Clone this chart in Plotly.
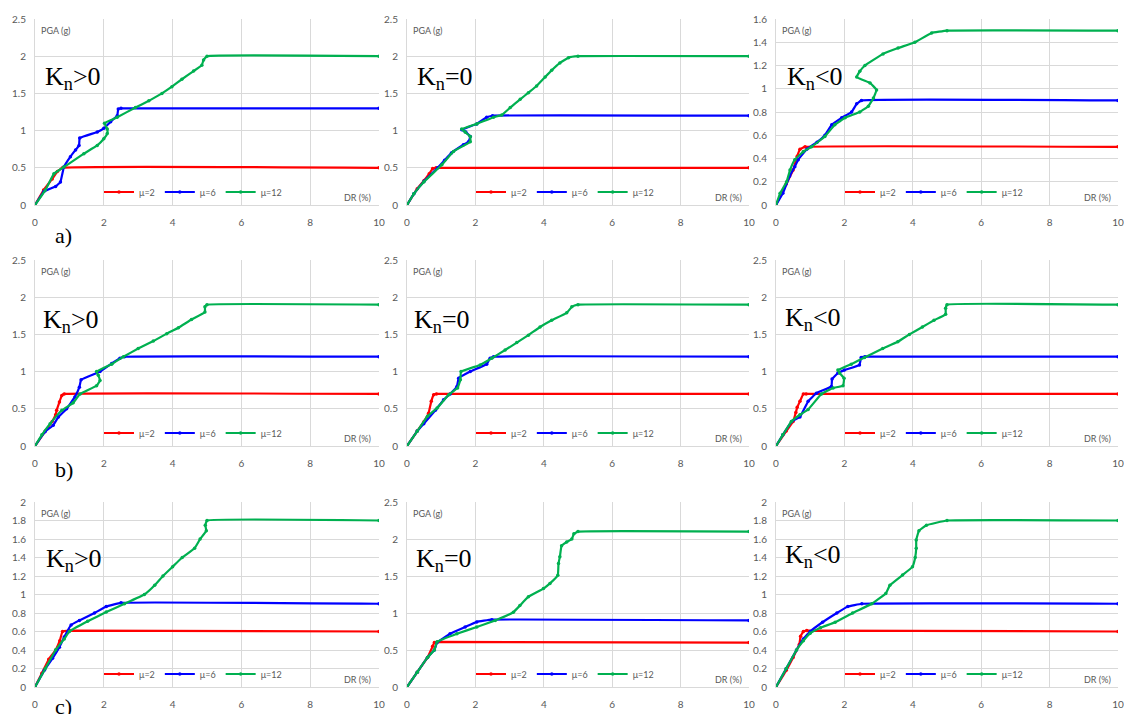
import plotly.graph_objects as go

# ---------------- data (DR %, PGA g) ----------------
# Row a
A1_MU2_X = [0, 0.25, 0.5, 0.65, 0.8, 10]
A1_MU2_Y = [0, 0.2, 0.35, 0.45, 0.5, 0.5]
A1_MU6_X = [0, 0.26, 0.6, 0.74, 0.84, 1.03, 1.18, 1.28, 1.3, 1.81, 2.0, 2.2, 2.39, 2.42, 2.5, 10]
A1_MU6_Y = [0, 0.18, 0.25, 0.31, 0.51, 0.65, 0.74, 0.8, 0.9, 0.98, 1.03, 1.12, 1.2, 1.29, 1.3, 1.3]
A1_MU12_X = [0, 0.3, 0.55, 0.84, 1.42, 1.81, 2.0, 2.1, 2.1, 2.02, 2.39, 2.92, 3.31, 3.69, 3.98, 4.27, 4.61, 4.85, 4.9, 5.0, 10]
A1_MU12_Y = [0, 0.2, 0.42, 0.51, 0.69, 0.8, 0.89, 0.96, 1.02, 1.1, 1.18, 1.31, 1.4, 1.5, 1.59, 1.69, 1.8, 1.88, 1.95, 2.0, 2.0]

A2_MU2_X = [0, 0.3, 0.5, 0.65, 0.75, 0.85, 10]
A2_MU2_Y = [0, 0.22, 0.33, 0.42, 0.49, 0.5, 0.5]
A2_MU6_X = [0, 0.2, 0.5, 0.9, 1.1, 1.3, 1.65, 1.8, 1.85, 1.72, 1.6, 2.04, 2.33, 2.5, 10]
A2_MU6_Y = [0, 0.15, 0.32, 0.5, 0.6, 0.7, 0.81, 0.85, 0.92, 0.98, 1.01, 1.09, 1.18, 1.2, 1.2]
A2_MU12_X = [0, 0.2, 0.49, 1.02, 1.36, 1.85, 1.85, 1.7, 1.6, 2.04, 2.53, 2.77, 3.02, 3.31, 3.55, 3.79, 4.04, 4.23, 4.47, 4.72, 5.0, 10]
A2_MU12_Y = [0, 0.15, 0.31, 0.54, 0.72, 0.85, 0.92, 0.98, 1.02, 1.09, 1.18, 1.21, 1.31, 1.42, 1.51, 1.6, 1.72, 1.81, 1.91, 1.98, 2.0, 2.0]

A3_MU2_X = [0, 0.3, 0.5, 0.62, 0.7, 0.85, 10]
A3_MU2_Y = [0, 0.18, 0.3, 0.42, 0.48, 0.5, 0.5]
A3_MU6_X = [0, 0.2, 0.4, 0.55, 0.65, 0.9, 1.2, 1.43, 1.63, 1.92, 2.21, 2.36, 2.5, 10]
A3_MU6_Y = [0, 0.1, 0.25, 0.33, 0.39, 0.48, 0.54, 0.6, 0.69, 0.75, 0.8, 0.87, 0.9, 0.9]
A3_MU12_X = [0, 0.12, 0.31, 0.41, 0.55, 0.8, 1.04, 1.43, 1.72, 2.02, 2.45, 2.7, 2.85, 2.94, 2.75, 2.36, 2.45, 2.6, 3.13, 3.57, 4.06, 4.55, 5.0, 10]
A3_MU12_Y = [0, 0.1, 0.2, 0.3, 0.39, 0.46, 0.5, 0.59, 0.69, 0.75, 0.8, 0.85, 0.92, 0.99, 1.05, 1.1, 1.15, 1.2, 1.3, 1.35, 1.4, 1.48, 1.5, 1.5]

# Row b
B1_MU2_X = [0, 0.3, 0.5, 0.6, 0.63, 0.71, 0.78, 0.85, 10]
B1_MU2_Y = [0, 0.2, 0.33, 0.42, 0.48, 0.59, 0.68, 0.7, 0.7]
B1_MU6_X = [0, 0.29, 0.53, 0.68, 0.92, 1.16, 1.29, 1.34, 1.89, 2.23, 2.47, 2.6, 10]
B1_MU6_Y = [0, 0.19, 0.28, 0.39, 0.5, 0.66, 0.79, 0.89, 1.0, 1.11, 1.18, 1.2, 1.2]
B1_MU12_X = [0, 0.2, 0.44, 0.78, 1.11, 1.31, 1.79, 1.89, 1.84, 1.79, 2.23, 2.57, 3.0, 3.44, 3.83, 4.17, 4.55, 4.94, 4.94, 5.0, 10]
B1_MU12_Y = [0, 0.15, 0.3, 0.48, 0.58, 0.7, 0.81, 0.88, 0.95, 1.0, 1.1, 1.2, 1.31, 1.41, 1.51, 1.59, 1.7, 1.8, 1.87, 1.9, 1.9]

B2_MU2_X = [0, 0.3, 0.5, 0.63, 0.71, 0.78, 0.86, 10]
B2_MU2_Y = [0, 0.2, 0.33, 0.44, 0.6, 0.69, 0.7, 0.7]
B2_MU6_X = [0, 0.3, 0.49, 0.83, 1.07, 1.26, 1.46, 1.51, 1.85, 2.33, 2.43, 2.53, 10]
B2_MU6_Y = [0, 0.2, 0.3, 0.48, 0.62, 0.7, 0.8, 0.91, 1.0, 1.1, 1.18, 1.2, 1.2]
B2_MU12_X = [0, 0.3, 0.6, 0.88, 1.22, 1.48, 1.56, 1.58, 2.14, 2.48, 2.87, 3.21, 3.55, 3.89, 4.23, 4.67, 4.82, 5.0, 10]
B2_MU12_Y = [0, 0.2, 0.4, 0.51, 0.69, 0.78, 0.89, 1.0, 1.09, 1.18, 1.29, 1.39, 1.49, 1.6, 1.69, 1.79, 1.87, 1.9, 1.9]

B3_MU2_X = [0, 0.3, 0.5, 0.58, 0.62, 0.7, 0.8, 0.88, 10]
B3_MU2_Y = [0, 0.2, 0.33, 0.45, 0.52, 0.6, 0.7, 0.7, 0.7]
B3_MU6_X = [0, 0.2, 0.46, 0.7, 0.94, 1.18, 1.62, 1.64, 1.81, 2.0, 2.44, 2.49, 2.6, 10]
B3_MU6_Y = [0, 0.15, 0.33, 0.39, 0.6, 0.71, 0.8, 0.9, 0.98, 1.02, 1.09, 1.19, 1.2, 1.2]
B3_MU12_X = [0, 0.2, 0.45, 0.7, 0.94, 1.33, 1.67, 1.96, 1.99, 1.86, 1.81, 2.2, 2.59, 3.12, 3.56, 3.9, 4.28, 4.62, 4.96, 4.96, 5.0, 10]
B3_MU12_Y = [0, 0.15, 0.33, 0.42, 0.49, 0.7, 0.78, 0.81, 0.91, 0.98, 1.02, 1.1, 1.19, 1.31, 1.4, 1.5, 1.6, 1.69, 1.77, 1.85, 1.9, 1.9]

# Row c
C1_MU2_X = [0, 0.2, 0.4, 0.6, 0.72, 0.8, 1.0, 10]
C1_MU2_Y = [0, 0.15, 0.3, 0.4, 0.5, 0.6, 0.61, 0.6]
C1_MU6_X = [0, 0.27, 0.51, 0.71, 0.85, 1.05, 1.29, 1.73, 2.07, 2.5, 10]
C1_MU6_Y = [0, 0.18, 0.31, 0.43, 0.54, 0.67, 0.72, 0.8, 0.87, 0.91, 0.9]
C1_MU12_X = [0, 0.3, 0.6, 0.85, 1.0, 1.53, 2.07, 2.6, 3.18, 3.48, 3.72, 4.0, 4.28, 4.64, 4.8, 4.98, 4.95, 5.0, 10]
C1_MU12_Y = [0, 0.2, 0.4, 0.52, 0.6, 0.71, 0.81, 0.9, 1.0, 1.1, 1.2, 1.3, 1.4, 1.5, 1.6, 1.69, 1.75, 1.8, 1.8]

C2_MU2_X = [0, 0.3, 0.6, 0.75, 0.8, 0.9, 10]
C2_MU2_Y = [0, 0.2, 0.4, 0.55, 0.6, 0.61, 0.6]
C2_MU6_X = [0, 0.3, 0.6, 0.8, 0.88, 1.26, 1.7, 2.04, 2.48, 10]
C2_MU6_Y = [0, 0.2, 0.4, 0.5, 0.6, 0.72, 0.81, 0.88, 0.91, 0.9]
C2_MU12_X = [0, 0.3, 0.6, 0.8, 0.88, 1.46, 2.04, 2.58, 3.11, 3.3, 3.55, 3.99, 4.18, 4.41, 4.43, 4.47, 4.52, 4.67, 4.82, 4.88, 5.0, 10]
C2_MU12_Y = [0, 0.2, 0.4, 0.5, 0.61, 0.72, 0.81, 0.9, 1.01, 1.1, 1.22, 1.33, 1.4, 1.51, 1.67, 1.76, 1.91, 1.96, 2.0, 2.07, 2.1, 2.1]

C3_MU2_X = [0, 0.3, 0.5, 0.68, 0.72, 0.8, 0.9, 10]
C3_MU2_Y = [0, 0.18, 0.32, 0.46, 0.55, 0.6, 0.61, 0.6]
C3_MU6_X = [0, 0.3, 0.6, 0.8, 1.0, 1.36, 1.78, 2.1, 2.51, 10]
C3_MU6_Y = [0, 0.2, 0.4, 0.52, 0.6, 0.7, 0.8, 0.87, 0.9, 0.9]
C3_MU12_X = [0, 0.3, 0.6, 0.8, 1.0, 1.3, 1.73, 2.24, 2.8, 3.21, 3.33, 3.7, 3.99, 4.07, 4.1, 4.1, 4.18, 4.4, 5.0, 10]
C3_MU12_Y = [0, 0.2, 0.4, 0.5, 0.58, 0.64, 0.7, 0.8, 0.9, 1.01, 1.1, 1.21, 1.3, 1.4, 1.5, 1.59, 1.69, 1.75, 1.8, 1.8]

SERIES_NAMES = ["μ=2", "μ=6", "μ=12"]
PANEL_LABELS = ["K<sub>n</sub>&gt;0", "K<sub>n</sub>=0", "K<sub>n</sub>&lt;0"]
ROW_LABELS = ["a)", "b)", "c)"]
Y_MAX = [2.5, 2.5, 1.6, 2.5, 2.5, 2.5, 2.0, 2.5, 2.0]
Y_DTICK = [0.5, 0.5, 0.2, 0.5, 0.5, 0.5, 0.2, 0.5, 0.2]

PANELS = [
    [(A1_MU2_X, A1_MU2_Y), (A1_MU6_X, A1_MU6_Y), (A1_MU12_X, A1_MU12_Y)],
    [(A2_MU2_X, A2_MU2_Y), (A2_MU6_X, A2_MU6_Y), (A2_MU12_X, A2_MU12_Y)],
    [(A3_MU2_X, A3_MU2_Y), (A3_MU6_X, A3_MU6_Y), (A3_MU12_X, A3_MU12_Y)],
    [(B1_MU2_X, B1_MU2_Y), (B1_MU6_X, B1_MU6_Y), (B1_MU12_X, B1_MU12_Y)],
    [(B2_MU2_X, B2_MU2_Y), (B2_MU6_X, B2_MU6_Y), (B2_MU12_X, B2_MU12_Y)],
    [(B3_MU2_X, B3_MU2_Y), (B3_MU6_X, B3_MU6_Y), (B3_MU12_X, B3_MU12_Y)],
    [(C1_MU2_X, C1_MU2_Y), (C1_MU6_X, C1_MU6_Y), (C1_MU12_X, C1_MU12_Y)],
    [(C2_MU2_X, C2_MU2_Y), (C2_MU6_X, C2_MU6_Y), (C2_MU12_X, C2_MU12_Y)],
    [(C3_MU2_X, C3_MU2_Y), (C3_MU6_X, C3_MU6_Y), (C3_MU12_X, C3_MU12_Y)],
]

# ---------------- layout / style ----------------
W, H = 1124, 714
COLORS = ["#ff0000", "#0000ff", "#00b050"]
COL_PX = [(35, 379), (407, 749), (776, 1118)]   # x=0 .. x=10 pixel columns
ROW_PX = [(19, 205), (260, 446), (502, 687)]    # top .. bottom pixel rows
KN_POS = [(43, 78), (415, 78), (785, 78),
          (41, 321), (412, 321), (783, 319),
          (44, 560), (414, 560), (783, 556)]
ROW_LABEL_POS = [(53, 236), (53, 469), (53, 706)]

GRID = "#d9d9d9"
TICKC = "#595959"
TICKFONT = dict(family="Lato, Liberation Sans, sans-serif", size=10, color=TICKC)

fig = go.Figure()
layout = dict(
    width=W, height=H, margin=dict(l=0, r=0, t=0, b=0, autoexpand=False),
    paper_bgcolor="white", plot_bgcolor="white", showlegend=True,
)
annotations = []

for i, series in enumerate(PANELS):
    r, c = divmod(i, 3)
    k = "" if i == 0 else str(i + 1)
    x0, x1 = COL_PX[c]
    yt, yb = ROW_PX[r]
    leg = "legend" + k
    for s, (xs, ys) in enumerate(series):
        fig.add_trace(go.Scatter(
            x=xs, y=ys, mode="lines+markers", name=SERIES_NAMES[s],
            line=dict(color=COLORS[s], width=2.2, shape="spline", smoothing=0.25),
            marker=dict(color=COLORS[s], size=3.5),
            xaxis="x" + k, yaxis="y" + k, legend=leg,
        ))
    layout["xaxis" + k] = dict(
        domain=[x0 / W, x1 / W], anchor="y" + k, range=[0, 10], dtick=2, tick0=0,
        showgrid=True, gridcolor=GRID, gridwidth=1, zeroline=False,
        showline=True, linecolor=GRID, linewidth=1, ticks="",
        tickfont=TICKFONT, ticklabelstandoff=8, automargin=False,
    )
    layout["yaxis" + k] = dict(
        domain=[1 - yb / H, 1 - yt / H], anchor="x" + k, range=[0, Y_MAX[i]],
        dtick=Y_DTICK[i], tick0=0,
        showgrid=True, gridcolor=GRID, gridwidth=1, zeroline=False,
        showline=True, linecolor=GRID, linewidth=1, ticks="",
        tickfont=TICKFONT, ticklabelstandoff=6, automargin=False,
    )
    layout[leg] = dict(
        orientation="h", x=(x0 + 64) / W, y=1 - (yb - 13) / H,
        xanchor="left", yanchor="middle", bgcolor="rgba(0,0,0,0)",
        font=dict(family="Lato, Liberation Sans, sans-serif", size=9, color=TICKC),
        itemwidth=30, tracegroupgap=0,
    )
    annotations.append(dict(
        text="PGA (g)", xref="x" + k + " domain", yref="y" + k + " domain",
        x=0.012, y=0.94, xanchor="left", yanchor="middle", showarrow=False,
        font=dict(family="Lato, Liberation Sans, sans-serif", size=9, color=TICKC),
    ))
    annotations.append(dict(
        text="DR (%)", xref="x" + k + " domain", yref="y" + k + " domain",
        x=0.984, y=0.04, xanchor="right", yanchor="middle", showarrow=False,
        font=dict(family="Lato, Liberation Sans, sans-serif", size=9, color=TICKC),
    ))
    kx, ky = KN_POS[i]
    annotations.append(dict(
        text=PANEL_LABELS[c], xref="paper", yref="paper",
        x=kx / W, y=1 - ky / H, xanchor="left", yanchor="middle", showarrow=False,
        font=dict(family="Liberation Serif, Times New Roman, serif", size=26, color="black"),
    ))

for r, lab in enumerate(ROW_LABELS):
    lx, ly = ROW_LABEL_POS[r]
    annotations.append(dict(
        text=lab, xref="paper", yref="paper", x=lx / W, y=1 - ly / H,
        xanchor="left", yanchor="middle", showarrow=False,
        font=dict(family="Liberation Serif, Times New Roman, serif", size=22, color="black"),
    ))

layout["annotations"] = annotations
fig.update_layout(**layout)
fig.write_html(
    "out.html",
    config={"displayModeBar": False},
    post_script="document.body.style.margin='0px';document.body.style.overflow='hidden';",
)
